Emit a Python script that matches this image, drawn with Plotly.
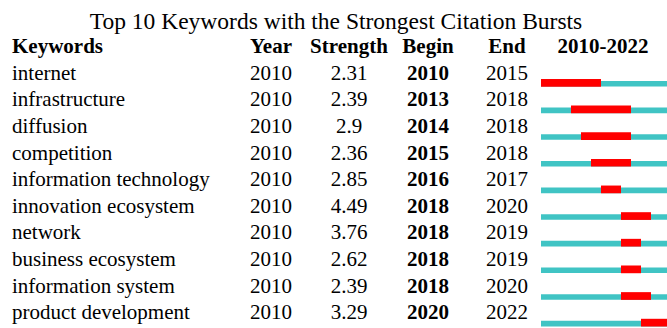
import plotly.graph_objects as go

keywords = ["internet", "infrastructure", "diffusion", "competition", "information technology",
            "innovation ecosystem", "network", "business ecosystem", "information system",
            "product development"]
year = [2010] * 10
strength = ["2.31", "2.39", "2.9", "2.36", "2.85", "4.49", "3.76", "2.62", "2.39", "3.29"]
begin = [2010, 2013, 2014, 2015, 2016, 2018, 2018, 2018, 2018, 2020]
end = [2015, 2018, 2018, 2018, 2017, 2020, 2019, 2019, 2020, 2022]
span_start, span_end = 2010, 2022
headers = ["Keywords", "Year", "Strength", "Begin", "End", "2010-2022"]
title = "Top 10 Keywords with the Strongest Citation Bursts"

# layout constants
W, H = 667, 328
FONT = "Liberation Serif"
FS = 21
col_x = [12, 271, 349, 428, 507, 603]   # column anchor positions (pixel-like axis)
rows = list(range(len(keywords)))
bar_off = 0.319
teal = "#40c4c4"
red = "#ff0000"

fig = go.Figure()

def txt(xpos, ys, texts, pos="middle center", size=FS):
    fig.add_trace(go.Scatter(x=[xpos] * len(ys), y=ys, text=texts, mode="text",
                             textposition=pos, xaxis="x", yaxis="y",
                             textfont=dict(family=FONT, size=size, color="black"),
                             hoverinfo="skip", showlegend=False))

txt(col_x[0], rows, keywords, "middle right")
txt(col_x[1], rows, [str(v) for v in year])
txt(col_x[2], rows, strength)
txt(col_x[3], rows, [f"<b>{v}</b>" for v in begin])
txt(col_x[4], rows, [str(v) for v in end])

# headers
txt(col_x[0], [-1], [f"<b>{headers[0]}</b>"], "middle right")
for cx, h in zip(col_x[1:], headers[1:]):
    txt(cx, [-1], [f"<b>{h}</b>"])

# timeline (teal full span)
n_years = span_end - span_start + 1
fig.add_trace(go.Bar(y=[r + bar_off + 0.035 for r in rows], x=[n_years] * len(rows),
                     base=[span_start] * len(rows), orientation="h", width=0.21,
                     marker=dict(color=teal, line=dict(width=0)),
                     xaxis="x2", yaxis="y", hoverinfo="skip", showlegend=False))

# red burst bars (begin .. end inclusive)
fig.add_trace(go.Bar(y=[r + bar_off for r in rows],
                     x=[e - b + 1 for b, e in zip(begin, end)], base=begin,
                     orientation="h", width=0.29,
                     marker=dict(color=red, line=dict(width=0)),
                     xaxis="x2", yaxis="y", hoverinfo="skip", showlegend=False))

px_per_row = 26.65
top = -74.3 / px_per_row
bottom = top + H / px_per_row
px_per_year = 10.0
x2_min = span_start - 541 / px_per_year
x2_max = x2_min + W / px_per_year

fig.update_layout(
    width=W, height=H, margin=dict(l=0, r=0, t=0, b=0),
    paper_bgcolor="white", plot_bgcolor="white", barmode="overlay",
    title=dict(text=title, x=336 / W, xanchor="center", y=1 - 20.5 / H, yanchor="middle",
               yref="container", font=dict(family=FONT, size=23.5, color="black")),
    xaxis=dict(domain=[0, 1], range=[0, W], visible=False, fixedrange=True),
    xaxis2=dict(domain=[0, 1], range=[x2_min, x2_max], overlaying="x", visible=False,
                fixedrange=True),
    yaxis=dict(range=[bottom, top], visible=False, fixedrange=True),
)

fig.write_html("out.html")
